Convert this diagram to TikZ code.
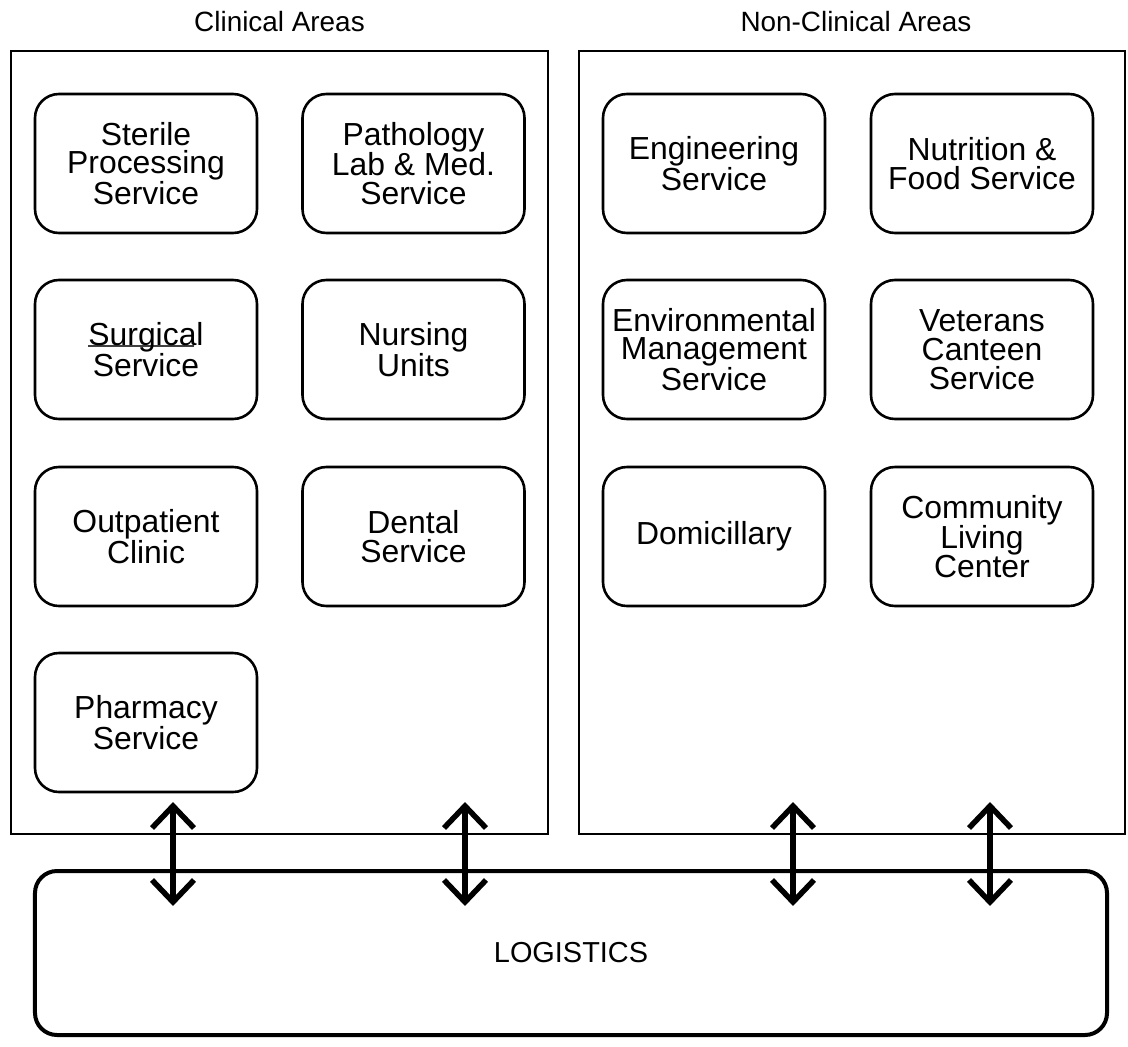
\documentclass[tikz,border=0pt]{standalone}
\usepackage{fontspec}
\setmainfont{Liberation Sans}
\begin{document}
\begin{tikzpicture}[x=1bp,y=-1bp,
  txt/.style={font=\fontsize{32}{29}\selectfont, align=center, inner sep=0pt},
  ttl/.style={font=\fontsize{28}{30}\selectfont, inner sep=0pt},
  area/.style={draw, line width=2.6bp, minimum width=#1, minimum height=783bp, inner sep=0pt},
  ibox/.style={draw, line width=2.6bp, rounded corners=24bp, minimum width=222bp, minimum height=139bp, inner sep=0pt, txt},
  logbox/.style={draw, line width=4bp, rounded corners=22bp, minimum width=1072bp, minimum height=164bp, inner sep=0pt, font=\fontsize{29}{30}\selectfont},
  shaft/.style={line width=6.5bp},
  chev/.style={line width=5.5bp, miter limit=10}
]
\useasboundingbox (0,0) rectangle (1128,1047);
% area boxes
\node[area=537bp] (clin) at (279.5,442.5) {};
\node[area=546bp] (nonclin) at (852,442.5) {};
\node[ttl] (clinlbl) at (279.5,22) {Clinical Areas};
\node[ttl] (nonclinlbl) at (856,22) {Non-Clinical Areas};
% clinical boxes
\node[ibox] (ster) at (146,163.5) {Sterile\\Processing\\Service};
\node[ibox] (path) at (413.5,163.5) {Pathology\\Lab \& Med.\\Service};
\node[ibox] (surg) at (146,349.5) {\rlap{\color{black!75}\rule[-1pt]{106bp}{1.3pt}}Surgical\\Service};
\node[ibox] (nurs) at (413.5,349.5) {Nursing\\Units};
\node[ibox] (outp) at (146,536.5) {Outpatient\\Clinic};
\node[ibox] (dent) at (413.5,536.5) {Dental\\Service};
\node[ibox] (phar) at (146,722.5) {Pharmacy\\Service};
% non-clinical boxes
\node[ibox] (eng) at (714,163.5) {Engineering\\Service};
\node[ibox] (nutr) at (982,163.5) {Nutrition \&\\Food Service};
\node[ibox] (env) at (714,349.5) {Environmental\\Management\\Service};
\node[ibox] (vet) at (982,349.5) {Veterans\\Canteen\\Service};
\node[ibox] (dom) at (714,536.5) {Domicillary};
\node[ibox] (clc) at (982,536.5) {Community\\Living\\Center};
% logistics
\node[logbox] (log) at (571,953) {\raisebox{-2bp}{LOGISTICS}};
% arrows
\foreach \i/\x in {1/173,2/465,3/793,4/990}{
  \coordinate (t\i) at (\x,806);
  \coordinate (b\i) at (\x,902);
  \draw[shaft] (t\i) -- (b\i);
  \draw[chev] ([shift={(-21,22)}]t\i) -- (t\i) -- ([shift={(21,22)}]t\i);
  \draw[chev] ([shift={(-21,-22)}]b\i) -- (b\i) -- ([shift={(21,-22)}]b\i);
}
\end{tikzpicture}
\end{document}
